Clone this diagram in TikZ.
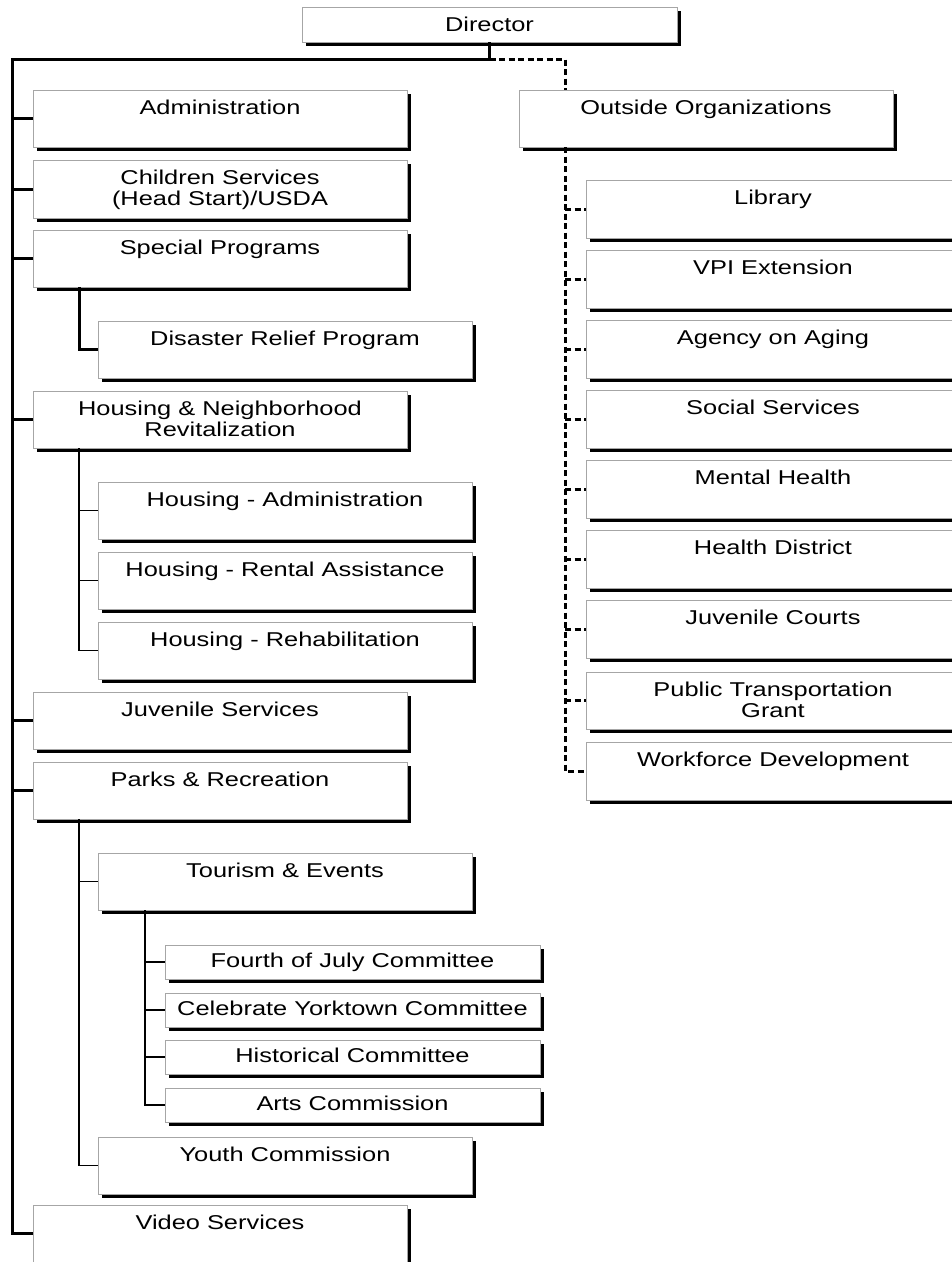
\documentclass[tikz,border=0pt]{standalone}
\usepackage{fontspec}
\setmainfont{Liberation Sans}[FakeStretch=1.27]
\usetikzlibrary{shadows}

\tikzset{
  unit/.style={draw=gray!70, line width=1pt, fill=white, anchor=north west,
    inner sep=0pt, outer sep=0pt,
    drop shadow={shadow xshift=3.8pt, shadow yshift=-3.8pt, fill=black, opacity=1}},
  bigunit/.style={unit, minimum width=374pt, minimum height=57pt},
  smallunit/.style={unit, minimum width=375pt, minimum height=34pt},
  txt/.style={anchor=north, inner sep=0pt, yshift=-10pt, align=center,
    font=\fontsize{20}{21}\selectfont},
  stxt/.style={txt, yshift=2pt},
  trunk/.style={line width=3pt},
  branch/.style={line width=1.3pt},
  outlink/.style={line width=3pt, dash pattern=on 6pt off 3.5pt}
}

\begin{document}
\begin{tikzpicture}[x=1pt, y=-1pt]
\useasboundingbox (0,0) rectangle (952,1262);
\clip (0,0) rectangle (952,1262);

\node[unit, minimum width=375pt, minimum height=35pt, label={[txt]north:Director}] (director) at (302,7) {};

% left column
\node[bigunit, label={[txt]north:Administration}] (admin) at (33,90) {};
\node[bigunit, minimum height=58pt, label={[txt]north:{Children Services\\(Head Start)/USDA}}] (children) at (33,160) {};
\node[bigunit, label={[txt]north:Special Programs}] (special) at (33,230) {};
\node[bigunit, label={[txt]north:Disaster Relief Program}] (disaster) at (98,321) {};
\node[bigunit, label={[txt]north:{Housing \& Neighborhood\\Revitalization}}] (housing) at (33,391) {};
\node[bigunit, label={[txt]north:Housing - Administration}] (hadmin) at (98,482) {};
\node[bigunit, label={[txt]north:Housing - Rental Assistance}] (hrental) at (98,552) {};
\node[bigunit, label={[txt]north:Housing - Rehabilitation}] (hrehab) at (98,622) {};
\node[bigunit, label={[txt]north:Juvenile Services}] (juvenile) at (33,692) {};
\node[bigunit, label={[txt]north:Parks \& Recreation}] (parks) at (33,762) {};
\node[bigunit, label={[txt]north:Tourism \& Events}] (tourism) at (98,853) {};
\node[smallunit, label={[stxt]north:Fourth of July Committee}] (fourth) at (165,945) {};
\node[smallunit, label={[stxt]north:Celebrate Yorktown Committee}] (celebrate) at (165,993) {};
\node[smallunit, label={[stxt]north:Historical Committee}] (historical) at (165,1040) {};
\node[smallunit, label={[stxt]north:Arts Commission}] (arts) at (165,1088) {};
\node[bigunit, label={[txt]north:Youth Commission}] (youth) at (98,1137) {};
\node[bigunit, label={[txt]north:Video Services}] (video) at (33,1205) {};

% right column
\node[bigunit, label={[txt]north:Outside Organizations}] (outside) at (519,90) {};
\node[bigunit, minimum height=58pt, label={[txt]north:Library}] (library) at (586,180) {};
\node[bigunit, minimum height=58pt, label={[txt]north:VPI Extension}] (vpi) at (586,250) {};
\node[bigunit, minimum height=58pt, label={[txt]north:Agency on Aging}] (aging) at (586,320) {};
\node[bigunit, minimum height=58pt, label={[txt]north:Social Services}] (social) at (586,390) {};
\node[bigunit, minimum height=58pt, label={[txt]north:Mental Health}] (mental) at (586,460) {};
\node[bigunit, minimum height=58pt, label={[txt]north:Health District}] (health) at (586,530) {};
\node[bigunit, minimum height=58pt, label={[txt]north:Juvenile Courts}] (courts) at (586,600) {};
\node[bigunit, minimum height=57pt, label={[txt]north:{Public Transportation\\Grant}}] (transport) at (586,672) {};
\node[bigunit, minimum height=58pt, label={[txt]north:Workforce Development}] (workforce) at (586,742) {};

\coordinate (top) at (12,59);
\coordinate (sub) at (79,0);
\coordinate (subsub) at (145,0);
\coordinate (ospine) at (565,59);

% solid lines
\draw[trunk] (director.south) -- (director.south |- top) -- (top) |- (video.west);
\foreach \n in {admin,children,special,housing,juvenile,parks}
  \draw[trunk] (top |- \n.west) -- (\n.west);
\draw[trunk] (sub |- special.south) |- (disaster.west);

\draw[branch] (sub |- housing.south) |- (hrehab.west);
\foreach \n in {hadmin,hrental}
  \draw[branch] (sub |- \n.west) -- (\n.west);
\draw[branch] (sub |- parks.south) |- (youth.west);
\draw[branch] (sub |- tourism.west) -- (tourism.west);
\draw[branch] (subsub |- tourism.south) |- (arts.west);
\foreach \n in {fourth,celebrate,historical}
  \draw[branch] (subsub |- \n.west) -- (\n.west);

% dashed lines
\draw[outlink] (director.south |- top) -- (ospine) -- (ospine |- outside.north);
\draw[outlink] (ospine |- outside.south) |- (workforce.west);
\foreach \n in {library,vpi,aging,social,mental,health,courts,transport}
  \draw[outlink] (ospine |- \n.west) -- (\n.west);
\end{tikzpicture}
\end{document}
